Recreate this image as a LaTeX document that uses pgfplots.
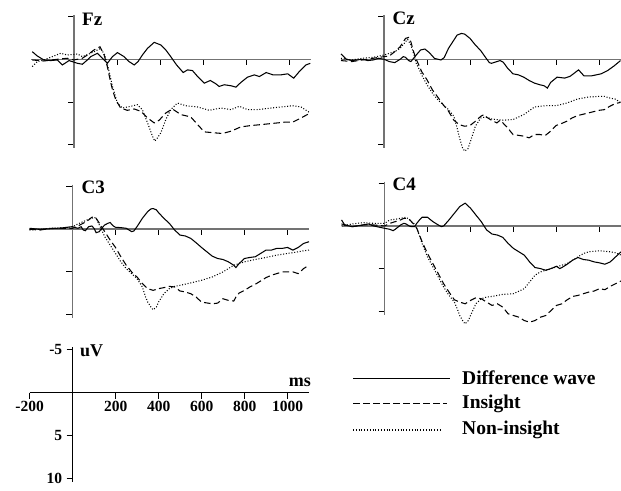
\documentclass[border=0pt]{standalone}
\usepackage{fontspec}
\setmainfont{Liberation Serif}
\usepackage{pgfplots}
\pgfplotsset{compat=1.18}

\tikzset{
  diff/.style={black, line width=1.05pt, solid},
  ins/.style={black, line width=1.05pt, dash pattern=on 6.5pt off 3.5pt},
  non/.style={black, line width=1.05pt, dash pattern=on 1pt off 1.8pt},
}
\pgfplotsset{
  erp/.style={
    axis lines=middle, axis line style={-, line width=1.2pt, black!55},
    x=0.215pt, y=8.55pt, y dir=reverse,
    xmin=-200, xmax=1100, ymin=-5.2, ymax=10.4,
    enlargelimits=false, clip=false,
    xtick={200,400,600,800,1000}, ytick={-5,5,10},
    xticklabels={}, yticklabels={},
    major tick length=6pt,
    xtick style={yshift=-3pt, line width=0.9pt, black},
    ytick style={xshift=-3pt, line width=0.9pt, black},
    anchor=south west,
  },
}
\newcommand{\lab}{\bfseries\fontsize{19}{20}\selectfont}

\begin{document}
\begin{tikzpicture}
\useasboundingbox (0pt,0pt) rectangle (621pt,-490pt);

% Fz
\begin{axis}[erp, at={(31pt,-148.2pt)}]
\addplot[non] coordinates {(-194,0.85)(-171,0.27)(-140,0.08)(-101,-0.31)(-62,-0.7)(-31,-0.5)(16,-0.62)(39,-0.31)(70,-0.62)(93,-0.89)(124,-1.28)(143,-0.5)(158,0.85)(179,3.18)(202,5.12)(225,5.7)(264,5.5)(295,5.31)(318,5.89)(342,7.44)(365,8.99)(376,9.57)(388,9.19)(404,8.6)(427,7.05)(450,5.89)(481,5.12)(520,5.43)(575,5.58)(629,5.97)(683,5.7)(730,5.89)(769,5.5)(807,5.89)(854,5.89)(916,5.7)(963,5.58)(1017,5.43)(1056,5.58)(1099,6.28)};
\addplot[ins] coordinates {(-194,0.08)(-140,0.2)(-78,0)(-31,-0.12)(0,0.08)(39,-0.12)(62,-0.5)(93,-1.09)(121,-1.47)(140,-0.5)(155,0.85)(168,2.4)(179,3.57)(194,4.73)(217,5.7)(248,5.97)(280,5.81)(311,6.09)(342,6.86)(373,7.44)(396,7.13)(427,6.28)(458,5.81)(497,6.47)(543,6.74)(575,7.64)(606,8.49)(652,8.6)(691,8.68)(730,8.41)(776,7.91)(823,7.75)(870,7.64)(916,7.52)(978,7.36)(1017,7.36)(1056,6.86)(1099,6.28)};
\addplot[diff] coordinates {(-194,-0.89)(-171,-0.39)(-140,0.08)(-109,0.15)(-78,0.08)(-54,0.66)(-23,0.15)(16,0.47)(39,0.58)(62,0.08)(78,-0.31)(109,-0.7)(132,-0.12)(155,0.47)(179,-0.31)(202,-0.78)(233,-0.31)(256,0.27)(280,0.66)(298,0.27)(318,-0.5)(342,-1.28)(373,-1.98)(404,-1.67)(427,-1.09)(450,-0.31)(477,0.66)(508,1.55)(528,1.24)(551,1.32)(575,2.02)(606,2.79)(634,2.48)(660,2.87)(675,3.18)(699,2.98)(731,3.1)(753,3.26)(776,2.71)(807,2.09)(839,1.82)(862,2.02)(894,1.55)(925,1.82)(963,1.82)(994,1.7)(1022,2.21)(1048,1.43)(1079,0.66)(1099,0.47)};
\end{axis}

% Cz
\begin{axis}[erp, at={(341pt,-148.2pt)}]
\addplot[non] coordinates {(-200,-0.12)(-150,0.08)(-100,-0.12)(-50,-0.23)(0,-0.5)(25,-0.7)(50,-0.89)(75,-1.28)(100,-2.05)(110,-2.33)(125,-1.67)(140,-0.5)(150,0.47)(165,1.24)(175,1.82)(200,2.98)(225,3.95)(250,4.73)(275,5.31)(300,5.89)(325,6.67)(340,8.02)(350,9.07)(365,10.35)(375,10.74)(390,10.47)(400,9.77)(425,7.83)(450,6.86)(475,6.74)(500,6.98)(550,7.13)(600,7.05)(650,6.47)(700,5.58)(750,5.43)(800,5.43)(850,5.12)(900,4.65)(950,4.42)(1000,4.34)(1025,4.34)(1050,4.53)(1075,4.65)(1100,5.04)};
\addplot[ins] coordinates {(-200,0.15)(-150,0.27)(-100,0.08)(-50,-0.12)(0,-0.31)(25,-0.39)(50,-0.89)(75,-1.47)(90,-2.05)(100,-2.44)(115,-2.56)(125,-2.05)(135,-1.09)(150,0)(165,0.85)(175,1.43)(200,2.4)(225,3.57)(250,4.42)(275,5.31)(300,6.08)(325,7.13)(350,7.64)(375,7.83)(400,7.75)(425,7.25)(450,6.67)(465,6.47)(475,6.74)(500,7.13)(525,7.44)(540,7.13)(550,7.36)(575,8.02)(600,8.8)(650,8.99)(675,9.19)(700,8.8)(725,8.8)(750,8.91)(775,8.41)(800,7.75)(825,7.52)(850,7.25)(875,6.86)(900,6.59)(950,6.28)(1000,5.97)(1025,5.89)(1050,5.5)(1075,5.19)(1100,5.04)};
\addplot[diff] coordinates {(-200,-0.62)(-175,0)(-150,0.15)(-100,0)(-75,0.15)(-50,0.08)(-25,-0.12)(0,0)(25,0.27)(50,0.39)(75,0)(90,-0.31)(100,-0.23)(115,0.15)(125,0.27)(150,-0.5)(170,-1.09)(190,-1.2)(210,-0.8)(235,-0.1)(265,0.08)(280,-0.2)(300,-1.28)(325,-2.25)(340,-2.83)(360,-3.02)(375,-2.95)(400,-2.44)(425,-1.67)(450,-1.01)(475,-0.12)(490,0.39)(500,0.47)(525,0.27)(540,0.15)(555,0.35)(575,1.05)(600,1.7)(625,1.82)(650,2.09)(675,2.48)(700,2.79)(725,2.98)(745,3.1)(760,3.37)(775,2.71)(805,2.09)(840,2.2)(865,2.0)(905,1.24)(930,1.94)(965,1.94)(1010,1.7)(1040,1.32)(1070,0.78)(1100,0.15)};
\end{axis}

% C3
\begin{axis}[erp, at={(29.5pt,-317.9pt)}]
\addplot[non] coordinates {(-200,0.12)(-150,0.04)(-100,-0.08)(-50,-0.12)(0,-0.27)(25,-0.59)(50,-0.86)(75,-1.14)(90,-1.25)(100,-1.37)(110,-1.25)(125,-0.47)(150,0.9)(175,1.88)(200,2.86)(225,3.84)(250,4.63)(275,5.22)(300,5.8)(325,6.78)(340,7.96)(350,8.55)(365,9.14)(375,9.45)(390,9.14)(400,8.55)(425,7.57)(450,6.98)(475,6.71)(500,6.59)(550,6.31)(600,6.0)(650,5.61)(700,5.02)(750,4.24)(800,3.84)(850,3.57)(900,3.33)(950,3.06)(1000,2.86)(1050,2.67)(1075,2.55)(1100,2.47)};
\addplot[ins] coordinates {(-200,0.04)(-150,0.12)(-100,-0.08)(-50,-0.08)(0,-0.08)(25,-0.35)(50,-0.67)(75,-1.06)(90,-1.37)(100,-1.45)(110,-1.25)(125,-0.67)(150,0.31)(175,1.29)(200,2.16)(225,3.25)(250,4.24)(275,5.02)(290,5.41)(300,5.61)(325,6.39)(350,6.98)(375,7.18)(400,6.98)(425,6.86)(450,6.71)(475,6.78)(500,7.25)(525,7.37)(550,7.57)(575,7.96)(600,8.55)(650,8.75)(675,8.67)(700,8.16)(725,8.35)(750,8.43)(760,7.96)(775,7.49)(800,7.18)(825,6.78)(850,6.47)(875,6.08)(900,5.69)(925,5.41)(950,5.22)(975,5.02)(1025,5.02)(1050,5.22)(1075,4.63)(1100,4.24)};
\addplot[diff] coordinates {(-200,-0.08)(-150,0.04)(-100,-0.04)(-50,-0.12)(0,-0.27)(25,-0.08)(40,-0.27)(50,0.12)(60,0.2)(75,-0.27)(90,-0.35)(100,-0.08)(110,0.43)(125,0.31)(135,-0.08)(150,-0.47)(165,-0.67)(175,-0.75)(190,-0.35)(200,-0.2)(225,-0.16)(250,-0.08)(275,0.31)(285,0.24)(300,-0.27)(325,-1.25)(350,-2.04)(365,-2.35)(375,-2.39)(390,-2.24)(400,-1.92)(425,-1.25)(450,-0.67)(475,0.12)(500,0.71)(525,0.82)(550,1.1)(575,1.61)(600,2.16)(625,2.67)(650,3.18)(675,3.45)(700,3.57)(725,3.84)(750,4.24)(760,4.51)(775,4.04)(800,3.45)(825,3.33)(850,3.25)(875,2.86)(900,2.47)(925,2.47)(950,2.27)(975,2.27)(1000,2.16)(1025,2.47)(1050,2.16)(1075,1.69)(1100,1.49)};
\end{axis}

% C4
\begin{axis}[erp, at={(341.5pt,-314.9pt)}]
\addplot[non] coordinates {(-200,0)(-150,-0.24)(-100,-0.39)(-50,-0.31)(0,-0.31)(25,-0.71)(50,-0.78)(75,-0.9)(100,-1.02)(115,-0.78)(125,-0.51)(140,-0.24)(150,0.27)(175,2.04)(200,3.61)(225,4.78)(250,5.96)(275,7.14)(300,8.12)(325,8.9)(340,9.8)(350,10.47)(365,11.14)(375,11.45)(390,11.06)(400,10.47)(425,9.1)(450,8.51)(475,8.31)(500,8.24)(550,8.0)(600,7.92)(650,7.33)(675,6.55)(700,5.76)(725,5.37)(750,5.18)(800,4.78)(850,4.39)(875,4.0)(900,3.61)(925,3.22)(950,3.02)(1000,2.9)(1050,3.02)(1075,3.14)(1100,3.41)};
\addplot[ins] coordinates {(-200,-0.24)(-150,0.08)(-100,-0.12)(-50,-0.12)(0,0)(25,-0.31)(50,-0.51)(75,-0.71)(90,-0.9)(100,-0.9)(115,-0.78)(125,-0.51)(140,-0.12)(150,0.27)(175,1.84)(200,3.22)(225,4.39)(250,5.57)(275,6.75)(300,7.73)(325,8.63)(350,8.9)(375,9.1)(400,8.71)(425,8.39)(450,8.51)(475,8.9)(500,9.29)(525,9.1)(550,9.49)(575,10.27)(600,10.47)(625,10.67)(650,11.06)(675,11.25)(700,11.06)(725,10.67)(750,10.47)(775,9.88)(800,9.29)(825,9.1)(850,8.63)(875,8.24)(900,8.12)(925,7.92)(950,7.73)(975,7.61)(1000,7.33)(1025,7.45)(1050,7.06)(1075,6.75)(1100,6.43)};
\addplot[diff] coordinates {(-200,-0.71)(-185,-0.12)(-150,0.08)(-100,-0.12)(-75,-0.24)(-50,0)(0,0.27)(25,0.39)(40,0.55)(50,0.39)(75,-0.12)(90,-0.31)(100,-0.24)(115,0)(125,0.08)(140,0.08)(150,-0.31)(165,-0.78)(175,-1.02)(200,-1.02)(225,-0.51)(250,-0.12)(265,0.08)(275,0)(300,-0.71)(325,-1.49)(350,-2.27)(375,-2.67)(400,-2.08)(425,-1.29)(450,-0.51)(475,0.47)(500,0.94)(525,1.06)(550,1.33)(575,2.04)(600,2.63)(625,3.02)(650,3.41)(675,4.2)(700,4.86)(725,4.98)(750,5.18)(775,4.98)(800,4.71)(815,4.98)(825,4.86)(850,4.47)(875,4.0)(900,3.69)(925,3.92)(950,4.0)(975,4.2)(1000,4.31)(1025,4.47)(1050,4.2)(1075,3.61)(1100,3.02)};
\end{axis}

% scale axis
\begin{axis}[erp, at={(29.7pt,-482.3pt)}, ymin=-5.3, ymax=10.5,
  axis line style={-, line width=1.1pt, black},
  xtick={-200,200,400,600,800,1000},
  xticklabels={-200,200,400,600,800,1000},
  yticklabels={-5,5,10},
  tick label style={font=\bfseries\fontsize{15.5}{16}\selectfont},
  yticklabel style={xshift=-4pt},
  xticklabel style={yshift=-2pt}]
\end{axis}

% panel names and units
\node[anchor=base west, inner sep=0pt, font=\lab] at (82pt,-25.5pt) {Fz};
\node[anchor=base west, inner sep=0pt, font=\lab] at (392.5pt,-24pt) {Cz};
\node[anchor=base west, inner sep=0pt, font=\lab] at (81.5pt,-193pt) {C3};
\node[anchor=base west, inner sep=0pt, font=\lab] at (392.5pt,-190pt) {C4};
\node[anchor=base west, inner sep=0pt, font=\bfseries\fontsize{18}{19}\selectfont] at (80pt,-356pt) {uV};
\node[anchor=base east, inner sep=0pt, font=\bfseries\fontsize{18}{19}\selectfont] at (311pt,-386.7pt) {ms};

% legend
\draw[diff] (353pt,-378.3pt) -- (450pt,-378.3pt);
\draw[ins] (353pt,-403.3pt) -- (447pt,-403.3pt);
\draw[non] (353pt,-430pt) -- (440pt,-430pt);
\node[anchor=base west, inner sep=0pt, font=\bfseries\fontsize{19.5}{20}\selectfont] at (462pt,-384pt) {Difference wave};
\node[anchor=base west, inner sep=0pt, font=\bfseries\fontsize{19.5}{20}\selectfont] at (462pt,-408.5pt) {Insight};
\node[anchor=base west, inner sep=0pt, font=\bfseries\fontsize{19.5}{20}\selectfont] at (462pt,-434pt) {Non-insight};
\end{tikzpicture}
\end{document}
